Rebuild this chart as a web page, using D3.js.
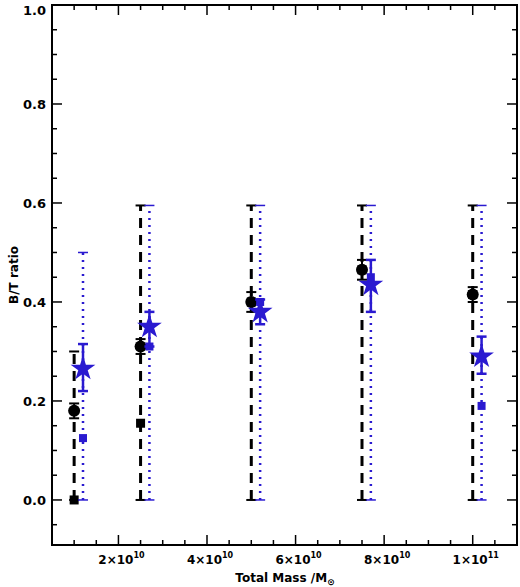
<!DOCTYPE html><html><head><meta charset="utf-8"><script src="https://cdn.jsdelivr.net/npm/d3@7"></script>
<style>body{margin:0;background:#fff}text{font-family:"DejaVu Sans",sans-serif;font-weight:bold}</style></head><body>
<svg id="c" width="520" height="587"></svg>
<script>
const massBlack=[1e10,2.5e10,5e10,7.5e10,1e11];
const massBlue=[1.2e10,2.7e10,5.2e10,7.7e10,1.02e11];
const circleVal=[0.18,0.31,0.40,0.465,0.415];
const circleErr=[0.015,0.015,0.02,0.02,0.015];
const blackSq=[0.0,0.155,0.40,0.465,0.415];
const blackMax=[0.30,0.595,0.595,0.595,0.595];
const blueMax=[0.50,0.595,0.595,0.595,0.595];
const blueSq=[0.125,0.31,0.40,0.45,0.19];
const starVal=[0.265,0.35,0.38,0.435,0.29];
const starLo=[0.22,0.31,0.355,0.38,0.255];
const starHi=[0.315,0.38,0.405,0.485,0.33];
const xTicks=[2e10,4e10,6e10,8e10,1e11];
const xLabels=["2×10","4×10","6×10","8×10","1×10"];
const xExp=["10","10","10","10","11"];
const yTicks=[0,0.2,0.4,0.6,0.8,1.0];
const svg=d3.select("#c");
const L=52,R=517,T=5,B=545;
const x=d3.scaleLinear().domain([0.5e10,1.1e11]).range([L,R]);
const y=d3.scaleLinear().domain([-0.091,1.0]).range([B,T]);
const blue="#2a1ad0";
svg.append("rect").attr("x",L).attr("y",T).attr("width",R-L).attr("height",B-T).attr("fill","none").attr("stroke","#000").attr("stroke-width",2);
const g=svg.append("g");
d3.range(0.5e10,1.1e11+1,0.5e10).forEach((v,i)=>{const maj=Math.abs(v/2e10-Math.round(v/2e10))<1e-6;const len=maj?10:5;
 g.append("line").attr("x1",x(v)).attr("x2",x(v)).attr("y1",B).attr("y2",B-len).attr("stroke","#000").attr("stroke-width",1.5);
 g.append("line").attr("x1",x(v)).attr("x2",x(v)).attr("y1",T).attr("y2",T+len).attr("stroke","#000").attr("stroke-width",1.5);});
d3.range(-0.05,1.0001,0.05).forEach(v=>{const maj=Math.abs(v*5-Math.round(v*5))<1e-6;const len=maj?10:5;
 g.append("line").attr("x1",L).attr("x2",L+len).attr("y1",y(v)).attr("y2",y(v)).attr("stroke","#000").attr("stroke-width",1.5);
 g.append("line").attr("x1",R).attr("x2",R-len).attr("y1",y(v)).attr("y2",y(v)).attr("stroke","#000").attr("stroke-width",1.5);});
yTicks.forEach(v=>svg.append("text").attr("x",L-6).attr("y",Math.max(y(v)+5,15)).attr("text-anchor","end").attr("font-size",13).text(v.toFixed(1)));
xTicks.forEach((v,i)=>{const t=svg.append("text").attr("x",x(v)+3).attr("y",B+19).attr("text-anchor","middle").attr("font-size",12);
 t.append("tspan").text(xLabels[i]);t.append("tspan").attr("dy",-6).attr("font-size",8).text(xExp[i]);});
const xl=svg.append("text").attr("x",285).attr("y",582).attr("text-anchor","middle").attr("font-size",12);
xl.append("tspan").text("Total Mass /M");xl.append("tspan").attr("dy",3).attr("font-size",9).text("⊙");
svg.append("text").attr("transform","translate(18,275) rotate(-90)").attr("text-anchor","middle").attr("font-size",12).text("B/T ratio");
function cap(xx,yy,c,w){svg.append("line").attr("x1",xx-5).attr("x2",xx+5).attr("y1",y(yy)).attr("y2",y(yy)).attr("stroke",c).attr("stroke-width",w);}
massBlack.forEach((m,i)=>{const xx=x(m);
 svg.append("line").attr("x1",xx).attr("x2",xx).attr("y1",y(0)).attr("y2",y(blackMax[i])).attr("stroke","#000").attr("stroke-width",3).attr("stroke-dasharray","10,7");
 cap(xx,0,"#000",2);cap(xx,blackMax[i],"#000",2);
 svg.append("rect").attr("x",xx-4.5).attr("y",y(blackSq[i])-4.5).attr("width",9).attr("height",9).attr("fill","#000");
 svg.append("line").attr("x1",xx).attr("x2",xx).attr("y1",y(circleVal[i]-circleErr[i])).attr("y2",y(circleVal[i]+circleErr[i])).attr("stroke","#000").attr("stroke-width",2);
 cap(xx,circleVal[i]-circleErr[i],"#000",2);cap(xx,circleVal[i]+circleErr[i],"#000",2);
 svg.append("circle").attr("cx",xx).attr("cy",y(circleVal[i])).attr("r",6).attr("fill","#000");});
const star=d3.symbol().type(d3.symbolStar).size(190);
massBlue.forEach((m,i)=>{const xx=x(m);
 svg.append("line").attr("x1",xx).attr("x2",xx).attr("y1",y(0)).attr("y2",y(blueMax[i])).attr("stroke",blue).attr("stroke-width",2.5).attr("stroke-dasharray","2,5");
 cap(xx,0,blue,1.5);cap(xx,blueMax[i],blue,1.5);
 svg.append("rect").attr("x",xx-4).attr("y",y(blueSq[i])-4).attr("width",8).attr("height",8).attr("fill",blue);
 svg.append("line").attr("x1",xx).attr("x2",xx).attr("y1",y(starLo[i])).attr("y2",y(starHi[i])).attr("stroke",blue).attr("stroke-width",2.5);
 cap(xx,starLo[i],blue,2.5);cap(xx,starHi[i],blue,2.5);
 svg.append("path").attr("d",star).attr("transform",`translate(${xx},${y(starVal[i])})`).attr("fill",blue);});
</script></body></html>
